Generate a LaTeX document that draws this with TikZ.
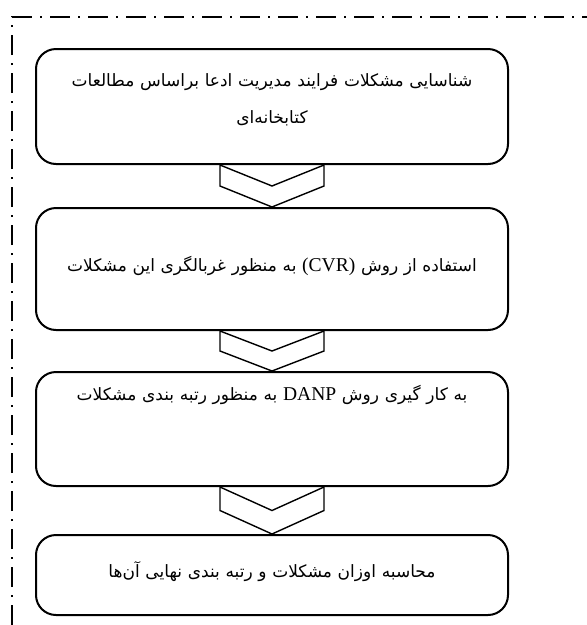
\documentclass[tikz,border=0pt]{standalone}
\usepackage{fontspec}
\usepackage{tikz}
\usetikzlibrary{positioning,calc}
\TeXXeTstate=1
\newfontfamily\arabicfont[Script=Arabic]{DejaVu Sans}
\newfontfamily\latinfont[Scale=1.15]{Liberation Serif}
\newcommand{\fa}[1]{\arabicfont\beginR #1\endR}
\newcommand{\en}[1]{\beginL{\latinfont #1}\endL{}}

\begin{document}
\begin{tikzpicture}[x=1pt,y=1pt,
  proc/.style={draw, line width=2pt, rounded corners=20pt, minimum width=472pt,
    inner xsep=6pt, inner ysep=0pt, text width=460pt, align=center,
    font=\fontsize{17}{37}\selectfont},
  chev/.style={draw, line width=1.4pt, line join=miter},
  frame/.style={line width=1.5pt, dash pattern=on 20pt off 8pt on 2pt off 8pt}]
\useasboundingbox (0,-625) rectangle (587,0);

  % Frame
  \draw[frame] (12,-625) -- (12,-17) -- (600,-17);

  % Nodes
  \node[proc, anchor=north, text height=37pt, text depth=78pt] (b1) at (272,-48)
    {\fa{شناسایی مشکلات فرایند مدیریت ادعا براساس مطالعات}\\\fa{کتابخانه‌ای}};
  \node[proc, below=42pt of b1, text height=63pt, text depth=59pt] (b2)
    {\fa{استفاده از روش \en{(CVR)} به منظور غربالگری این مشکلات}};
  \node[proc, below=40pt of b2, text height=28pt, text depth=86pt] (b3)
    {\fa{به کار گیری روش \en{DANP} به منظور رتبه بندی مشکلات}};
  \node[proc, below=47pt of b3, text height=42pt, text depth=38pt] (b4)
    {\fa{محاسبه اوزان مشکلات و رتبه بندی نهایی آن‌ها}};

  % Edges
  \foreach \a/\b in {b1/b2,b2/b3,b3/b4}
    \draw[chev] ($(\a.south)+(-52,0)$) -- ($(\a.south)!.5!(\b.north)$)
      -- ($(\a.south)+(52,0)$) -- ($(\a.south)!.5!(\b.north)+(52,0)$)
      -- (\b.north) -- ($(\a.south)!.5!(\b.north)+(-52,0)$) -- cycle;
\end{tikzpicture}
\end{document}
